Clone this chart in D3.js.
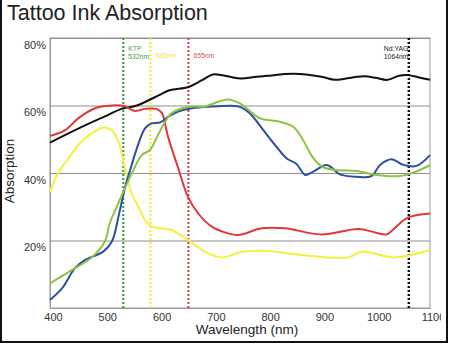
<!DOCTYPE html>
<html>
<head>
<meta charset="utf-8">
<script src="https://cdn.jsdelivr.net/npm/d3@7"></script>
<style>
  body { margin: 0; background: #fff; }
  svg { display: block; font-family: "Liberation Sans", Arial, sans-serif; }
</style>
</head>
<body>
<svg id="chart" width="450" height="344"></svg>
<script>
// tick values
var xTicks = [400, 500, 600, 700, 800, 900, 1000, 1100];
var yTicks = [20, 40, 60, 80];

// [wavelength nm, absorption %]
var blackInk = [[400,49],[450,53],[500,56.7],[532,59],[560,60],[600,63],[620,64.5],[655,65.5],[680,67.5],
  [700,69.2],[720,68.9],[750,68],[780,68.5],[800,68.8],[850,69.4],[900,68.5],[925,67.6],[960,68.4],
  [980,68.7],[1000,68.2],[1022,67.6],[1043,68.8],[1060,69],[1080,68.3],[1100,67.6]];
var redInk = [[400,51],[428,52.7],[452,56.2],[483,59.2],[514,60],[535,59.9],[557,58.4],[575,59],[596,59],
  [606,57.8],[617,51],[636,41.5],[654,33],[673,28],[698,24.1],[722,22.4],[746,21.6],[760,22.1],[790,23.6],
  [833,23.6],[900,21.8],[968,23.4],[999,22.4],[1020,21.8],[1041,24.6],[1059,26.8],[1100,28]];
var yellowInk = [[400,34.5],[415,40],[434,44.3],[452,48.3],[477,51.8],[498,53.5],[514,52.7],[526,49.3],
  [538,41.4],[550,34],[563,30],[575,26],[587,24.1],[606,23.6],[624,23.1],[655,20.1],[685,16.7],[716,15],
  [735,15.7],[750,16.5],[802,16.9],[863,15.7],[949,15],[974,16.7],[1035,15],[1100,17.2]];
var greenInk = [[400,7.3],[446,11.8],[477,15],[501,19.7],[510,25.1],[523,30],[538,35.5],[550,39.6],
  [569,45.3],[584,46.8],[599,51.3],[612,55.2],[624,57.7],[643,59.2],[661,59.7],[685,59.7],[710,61.1],
  [728,61.8],[750,60.6],[787,56.2],[817,55.4],[848,53.7],[866,49.8],[885,44.4],[903,41.7],[928,40.9],
  [965,40.6],[1002,39.4],[1045,39.1],[1069,40.1],[1100,42.3]];
var blueInk = [[400,2.4],[422,5.8],[446,11.8],[464,14.2],[498,16.7],[514,19.7],[526,27],[535,33.5],
  [541,37.4],[547,40.5],[560,47.3],[575,53.2],[587,54.7],[603,55],[618,56.7],[636,58.2],[661,59.2],
  [698,59.7],[735,59.9],[750,59.6],[768,57.7],[793,52.7],[817,47.8],[836,44.3],[854,42.7],[870,39.4],
  [885,40.4],[910,42.4],[934,39.6],[965,38.9],[992,39.1],[1008,42.4],[1029,44.1],[1051,42.4],
  [1075,42.1],[1100,45.3]];

// laser wavelengths
var laserNames = [["KTP", "532nm"], ["585nm"], ["655nm"], ["Nd:YAG", "1064nm"]];
var laserNm = [535, 585, 655, 1061];

var inks = [
  {data: blackInk, color: "#111111"},
  {data: redInk, color: "#e0383a"},
  {data: yellowInk, color: "#f6f03c"},
  {data: blueInk, color: "#2b4fa2"},
  {data: greenInk, color: "#8cc43f"}
];
var laserColors = ["#2f9a3c", "#f7ea2a", "#d03a3f", "#111111"]
  , laserTextColors = ["#4f9a55", "#f3e64a", "#d0505a", "#222222"];

var svg = d3.select("#chart")
  , plotL = 50, plotR = 430, plotT = 38, plotB = 308;

var x = d3.scaleLinear().domain([400, 1100]).range([plotL, plotR]);
var y = d3.scaleLinear().domain([0, 80]).range([plotB, plotT]);

svg.append("clipPath").attr("id", "clip")
  .append("rect").attr("x", 0).attr("y", 0).attr("width", 441).attr("height", 344);

// title
svg.append("text")
  .attr("x", 7).attr("y", 20)
  .style("font-size", "21.5px").style("fill", "#222")
  .text("Tattoo Ink Absorption");

// plot frame
svg.append("rect")
  .attr("x", plotL).attr("y", plotT)
  .attr("width", plotR - plotL).attr("height", plotB - plotT)
  .style("fill", "none").style("stroke", "#9a9a9a");

// grid via axes
var xAxis = svg.append("g")
  .attr("transform", "translate(0," + plotB + ")")
  .attr("clip-path", "url(#clip)")
  .call(d3.axisBottom(x).tickValues(xTicks).tickSize(-(plotB - plotT)).tickPadding(5).tickFormat(d3.format("d")));
var yAxis = svg.append("g")
  .attr("transform", "translate(" + plotL + ",0)")
  .call(d3.axisLeft(y).tickValues(yTicks).tickSize(-(plotR - plotL)).tickPadding(4).tickFormat(d => d + "%"));

[xAxis, yAxis].forEach(function(g){
  g.select(".domain").style("stroke", "#9a9a9a");
  g.selectAll(".tick line").style("stroke", "#8e8e8e");
  g.selectAll(".tick text").style("font-size", "11px").style("fill", "#333").style("font-family", "Liberation Sans, Arial, sans-serif");
});
xAxis.selectAll(".tick text").attr("dx", 3);
yAxis.selectAll(".tick text").attr("dy", "0.95em");

// axis titles
svg.append("text")
  .attr("x", 247).attr("y", 334)
  .attr("text-anchor", "middle")
  .style("font-size", "13.5px").style("fill", "#222")
  .text("Wavelength (nm)");
svg.append("text")
  .attr("transform", "translate(14,171) rotate(-90)")
  .attr("text-anchor", "middle")
  .style("font-size", "13.5px").style("fill", "#222")
  .text("Absorption");

// laser lines
svg.selectAll(".laser")
  .data(laserNm)
  .enter()
  .append("line")
  .attr("class", "laser")
  .attr("x1", d => x(d)).attr("x2", d => x(d))
  .attr("y1", plotT).attr("y2", plotB)
  .style("stroke", (d, i) => laserColors[i])
  .style("stroke-width", (d, i) => i == 3 ? 2.5 : 2)
  .style("stroke-dasharray", "2,2");

laserNm.forEach(function(nm, i){
  var t = svg.append("text")
    .style("font-size", "6.8px")
    .style("fill", laserTextColors[i]);
  var lines = laserNames[i];
  lines.forEach(function(s, j){
    t.append("tspan")
      .attr("x", i == 3 ? x(nm) - 25 : x(nm) + 5)
      .attr("y", lines.length == 1 ? 58 : 51 + j * 7.5)
      .text(s);
  });
});

// ink curves
var line = d3.line()
  .x(d => x(d[0]))
  .y(d => y(d[1]))
  .curve(d3.curveCatmullRom.alpha(0.5));

svg.selectAll(".ink")
  .data(inks)
  .enter()
  .append("path")
  .attr("class", "ink")
  .attr("d", d => line(d.data))
  .style("fill", "none")
  .style("stroke", d => d.color)
  .style("stroke-width", 2);

// outer frame, open at the top
svg.append("path")
  .attr("d", "M1,0V342H447V0")
  .style("fill", "none").style("stroke", "#111").style("stroke-width", 2);
</script>
</body>
</html>
